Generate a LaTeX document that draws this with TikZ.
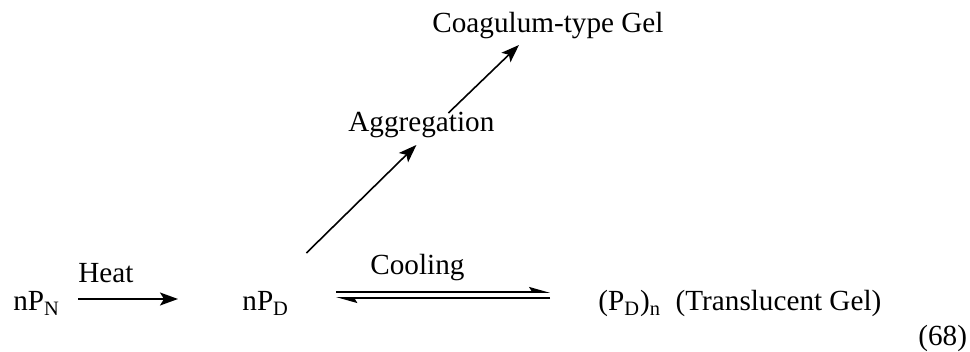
\documentclass[tikz,border=0pt]{standalone}
\usepackage{fontspec}
\setmainfont{Liberation Serif}
\usetikzlibrary{arrows.meta}

\begin{document}
\begin{tikzpicture}[x=0.5pt,y=-0.5pt,
    lbl/.style={inner sep=0pt,anchor=base west,font=\fontsize{14.6}{17}\selectfont},
    rxn/.style={line width=0.8pt,-{Stealth[length=9pt,width=6.5pt,inset=2pt]}},
    half/.style={line width=0.8pt,-{Stealth[left,length=9pt,width=5pt,inset=1.5pt]}}]

        \useasboundingbox (0,0) rectangle (970,352);

        % Species
        \node[lbl] (npn) at (13,311) {nP\textsubscript{N}};
        \node[lbl] (npd) at (242,311) {nP\textsubscript{D}};
        \node[lbl] (pdn) at (598,311) {(P\textsubscript{D})\textsubscript{n}\ \ (Translucent Gel)};
        \node[lbl] (coag) at (432,33) {Coagulum-type Gel};

        % Labels
        \node[lbl] (heat) at (78,283) {Heat};
        \node[lbl] (cool) at (370,275) {Cooling};
        \node[lbl] (agg) at (348,132) {Aggregation};
        \node[lbl] (eqno) at (918,346) {(68)};

        % Heating
        \draw[rxn] ([shift={(9pt,6pt)}]npn.base east) -- ([shift={(-32pt,6pt)}]npd.base west);

        % Equilibrium
        \draw[half] ([shift={(23.5pt,9.5pt)}]npd.base east) -- ([shift={(-24pt,9.5pt)}]pdn.base west);
        \draw[half] ([shift={(-24pt,6.5pt)}]pdn.base west) -- ([shift={(23.5pt,6.5pt)}]npd.base east);

        % Aggregation
        \draw[rxn] ([shift={(8.5pt,29pt)}]npd.base east) -- ([shift={(-2.5pt,-6.5pt)}]agg.base);
        \draw[rxn] ([shift={(13.5pt,9.5pt)}]agg.base) -- ([shift={(-14.5pt,-6pt)}]coag.base);

    \end{tikzpicture}
\end{document}
